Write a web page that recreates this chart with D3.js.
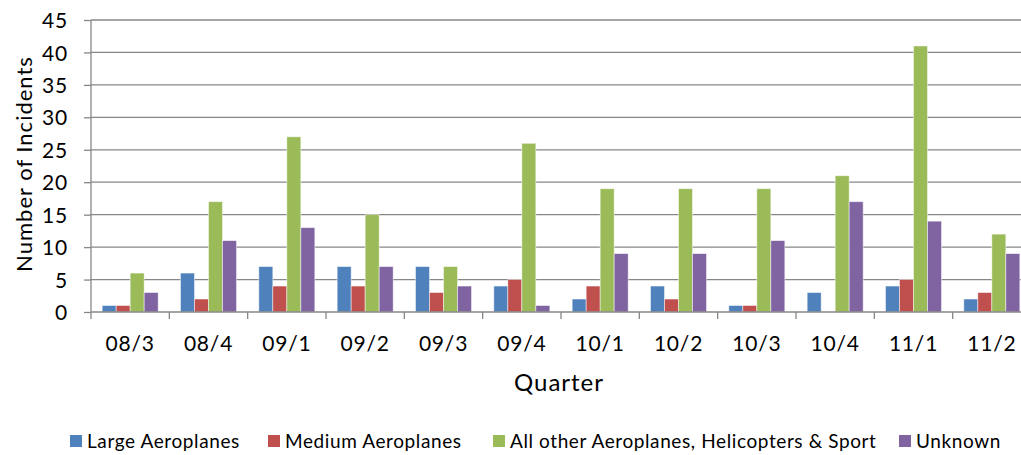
<!DOCTYPE html>
<html>
<head>
<meta charset="utf-8">
<script src="https://cdn.jsdelivr.net/npm/d3@7.9.0/dist/d3.min.js"></script>
<style>
  body { margin: 0; background: #fff; }
  svg { display: block; font-family: Lato, Carlito, Calibri, sans-serif; }
</style>
</head>
<body>
<svg id="chart" width="1021" height="455"></svg>
<script>
const quarters = ['08/3', '08/4', '09/1', '09/2', '09/3', '09/4', '10/1', '10/2', '10/3', '10/4', '11/1', '11/2'];
const seriesNames = ['Large Aeroplanes', 'Medium Aeroplanes', 'All other Aeroplanes, Helicopters & Sport', 'Unknown'];
const large   = [1, 6, 7, 7, 7, 4, 2, 4, 1, 3, 4, 2];
const medium  = [1, 2, 4, 4, 3, 5, 4, 2, 1, 0, 5, 3];
const other   = [6, 17, 27, 15, 7, 26, 19, 19, 19, 21, 41, 12];
const unknown = [3, 11, 13, 7, 4, 1, 9, 9, 11, 17, 14, 9];
const yTicks = [0, 5, 10, 15, 20, 25, 30, 35, 40, 45];
const colors = ['#4F81BD', '#C0504D', '#9BBB59', '#8064A2'];

const series = [large, medium, other, unknown];
const rows = quarters.map((q, i) => ({ q, values: series.map(s => s[i]) }));

const svg = d3.select('#chart');
const plotLeft = 91, plotRight = 1031, plotTop = 20, plotBottom = 312;
const gridColor = '#878787';

const x = d3.scaleBand().domain(quarters).range([plotLeft, plotRight]).paddingInner(0.285).paddingOuter(0.1425);
const xs = d3.scaleBand().domain(d3.range(4)).range([0, x.bandwidth()]);
const y = d3.scaleLinear().domain([0, 45]).range([plotBottom, plotTop]);

// gridlines
svg.append('g')
  .selectAll('line')
  .data(yTicks.filter(d => d > 0))
  .join('line')
  .attr('x1', plotLeft).attr('x2', plotRight)
  .attr('y1', d => y(d)).attr('y2', d => y(d))
  .attr('stroke', gridColor).attr('stroke-width', 1.3);

// bars
svg.append('g')
  .selectAll('g')
  .data(rows)
  .join('g')
  .attr('transform', d => `translate(${x(d.q)},0)`)
  .selectAll('rect')
  .data(d => d.values.map((v, k) => ({ v, k })))
  .join('rect')
  .attr('x', d => xs(d.k))
  .attr('y', d => y(d.v))
  .attr('width', xs.bandwidth())
  .attr('height', d => plotBottom - y(d.v))
  .attr('fill', d => colors[d.k])
  .attr('stroke', d => d.v > 0 ? 'rgba(255,255,255,0.6)' : 'none')
  .attr('stroke-width', 0.8);

// y axis
const yAxis = svg.append('g')
  .attr('transform', `translate(${plotLeft},0)`)
  .call(d3.axisLeft(y).tickValues(yTicks).tickSize(7).tickPadding(16));
yAxis.attr('font-family', null).attr('font-size', null);
yAxis.select('.domain').attr('stroke', gridColor).attr('stroke-width', 1.3).attr('d', `M0,${plotTop}V${plotBottom}`);
yAxis.selectAll('.tick line').attr('stroke', gridColor).attr('stroke-width', 1.3);
yAxis.selectAll('.tick text')
  .attr('font-size', 21).attr('letter-spacing', 0.8).attr('fill', '#000').attr('dy', '0.36em');

// x axis
const xAxis = svg.append('g')
  .attr('transform', `translate(0,${plotBottom})`);
xAxis.append('line')
  .attr('x1', plotLeft).attr('x2', plotRight)
  .attr('stroke', gridColor).attr('stroke-width', 1.3);
xAxis.selectAll('line.tk')
  .data(d3.range(quarters.length + 1))
  .join('line')
  .attr('class', 'tk')
  .attr('x1', i => plotLeft + i * x.step()).attr('x2', i => plotLeft + i * x.step())
  .attr('y1', 0).attr('y2', 7)
  .attr('stroke', gridColor).attr('stroke-width', 1.3);
xAxis.selectAll('text')
  .data(quarters)
  .join('text')
  .attr('x', d => x(d) + x.bandwidth() / 2)
  .attr('y', 39)
  .attr('text-anchor', 'middle')
  .attr('font-size', 21)
  .attr('letter-spacing', 0.8)
  .text(d => d);

// axis titles
svg.append('text')
  .attr('x', 559).attr('y', 391)
  .attr('text-anchor', 'middle')
  .attr('font-size', 24)
  .attr('letter-spacing', 1)
  .text('Quarter');
svg.append('text')
  .attr('transform', 'translate(32,164) rotate(-90)')
  .attr('text-anchor', 'middle')
  .attr('font-size', 22)
  .attr('letter-spacing', 1)
  .text('Number of Incidents');

// legend
const legendX = [70, 268, 493, 899];
const legend = svg.append('g').attr('transform', 'translate(0,441)');
const items = legend.selectAll('g')
  .data(seriesNames)
  .join('g')
  .attr('transform', (d, i) => `translate(${legendX[i]},0)`);
items.append('rect')
  .attr('x', 0).attr('y', -6)
  .attr('width', 12).attr('height', 12)
  .attr('fill', (d, i) => colors[i]);
items.append('text')
  .attr('x', 17).attr('y', 7)
  .attr('font-size', 19)
  .attr('letter-spacing', 0.6)
  .text(d => d);
</script>
</body>
</html>
